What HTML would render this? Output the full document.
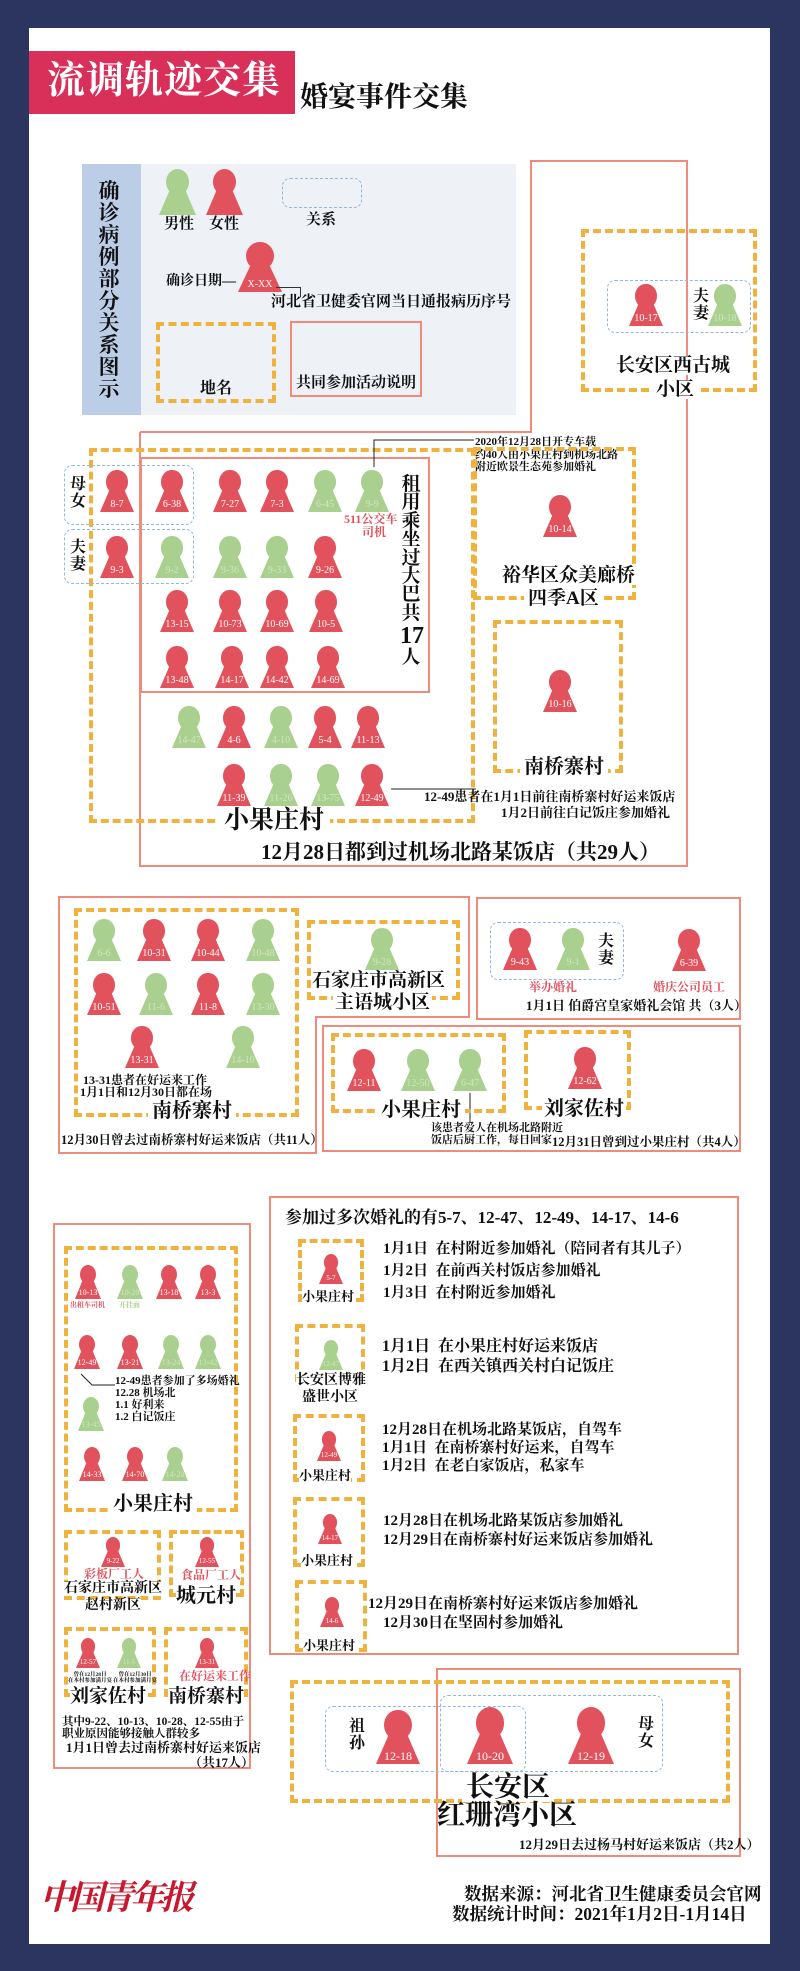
<!DOCTYPE html>
<html><head><meta charset="utf-8">
<style>
*{margin:0;padding:0;box-sizing:border-box}
body{width:800px;height:1971px;background:#2c3560;position:relative;overflow:hidden;font-family:"Liberation Serif","Noto Serif CJK SC",serif;font-weight:bold;color:#111}
#w{position:absolute;left:29px;top:28px;width:741px;height:1916px;background:#fff}
.a{position:absolute}
.t{position:absolute;white-space:nowrap;line-height:1;font-weight:bold}
.o{position:absolute;border:4px dashed #f0b23e}
.rb{position:absolute;border:2px solid #f08a7a}
.bl{position:absolute;border:1.5px dashed #8fb8dc;border-radius:8px}
.p{position:absolute;width:34px;height:42px;margin-left:-17px}
.p i{position:absolute;left:19%;width:62%;top:0;height:56%;border-radius:50%;background:var(--c)}
.p b{position:absolute;left:0;right:0;bottom:0;height:62%;background:var(--c);clip-path:polygon(33% 0,67% 0,100% 100%,0 100%);color:#fff;font-size:10px;line-height:1;display:flex;align-items:flex-end;justify-content:center;padding-bottom:2px;font-family:"Liberation Serif",serif;font-weight:normal}
.r{--c:#e1525d}.g{--c:#a9d08e}
.g b{color:#cfe6c0}
.s{width:26px;height:34px;margin-left:-13px}.s b{font-size:8px}
.xs{width:24px;height:30px;margin-left:-12px}.xs b{font-size:7px}
.L{width:37px;height:46px;margin-left:-18px}
.B{width:44px;height:54px;margin-left:-22px}.B b{font-size:12px}
.wb{background:#fff}
.red{color:#e1525d}
.v{position:absolute;line-height:1.05;font-weight:bold;text-align:center}
</style></head><body>
<div id="w"></div>

<!-- title -->
<div class="a" style="left:29px;top:51px;width:266px;height:63px;background:#d9305a"></div>
<div class="t" style="left:47px;top:62px;font-size:38px;color:#fff;letter-spacing:1px">流调轨迹交集</div>
<div class="t" style="left:300px;top:84px;font-size:28px">婚宴事件交集</div>

<!-- legend -->
<div class="a" style="left:82px;top:164px;width:434px;height:251px;background:#eef2f7"></div>
<div class="a" style="left:82px;top:164px;width:59px;height:251px;background:#bccde8"></div>
<div class="v" style="left:97px;top:180px;width:24px;font-size:21px">确<br>诊<br>病<br>例<br>部<br>分<br>关<br>系<br>图<br>示</div>
<div class="p L g" style="left:177px;top:169px"><i></i><b></b></div>
<div class="p L r" style="left:224px;top:169px"><i></i><b></b></div>
<div class="t" style="left:164px;top:217px;font-size:15px">男性</div>
<div class="t" style="left:209px;top:217px;font-size:15px">女性</div>
<div class="bl" style="left:282px;top:178px;width:80px;height:30px"></div>
<div class="t" style="left:306px;top:213px;font-size:15px">关系</div>
<div class="p L r" style="left:260px;top:242px;width:44px;height:50px;margin-left:-22px"><i></i><b>X-XX</b></div>
<div class="t" style="left:166px;top:275px;font-size:14px">确诊日期—</div>
<div class="a" style="left:276px;top:287px;width:24px;height:1px;background:#333"></div>
<div class="a" style="left:300px;top:287px;width:1px;height:10px;background:#333"></div>
<div class="t" style="left:271px;top:295px;font-size:15px">河北省卫健委官网当日通报病历序号</div>
<div class="o" style="left:156px;top:322px;width:120px;height:81px"></div>
<div class="t wb" style="left:196px;top:381px;font-size:16px;background:#eef2f7;padding:0 4px">地名</div>
<div class="rb" style="left:290px;top:321px;width:132px;height:76px"></div>
<div class="t" style="left:296px;top:376px;font-size:15px">共同参加活动说明</div>

<!-- big red polyline -->
<svg class="a" style="left:0;top:0" width="800" height="900"><polyline points="140,432 531,432 531,161 687,161 687,866 140,866 140,432" fill="none" stroke="#f08a7a" stroke-width="2"/></svg>

<!-- 西古城 -->
<div class="o" style="left:581px;top:229px;width:176px;height:163px"></div>
<div class="bl" style="left:607px;top:280px;width:144px;height:53px"></div>
<div class="p r" style="left:646px;top:284px"><i></i><b>10-17</b></div>
<div class="p g" style="left:725px;top:284px"><i></i><b>10-18</b></div>
<div class="v" style="left:692px;top:289px;width:18px;font-size:16px">夫<br>妻</div>
<div class="t wb" style="left:612px;top:356px;font-size:19px;padding:0 4px">长安区西古城</div>
<div class="t wb" style="left:652px;top:380px;font-size:19px;padding:0 4px">小区</div>

<!-- 小果庄村 big -->
<div class="o" style="left:89px;top:448px;width:386px;height:375px"></div>
<div class="rb" style="left:140px;top:457px;width:290px;height:236px"></div>
<div class="bl" style="left:64px;top:465px;width:130px;height:60px"></div>
<div class="bl" style="left:64px;top:529px;width:130px;height:55px"></div>
<div class="v wb" style="left:69px;top:477px;width:18px;font-size:16px">母<br>女</div>
<div class="v wb" style="left:69px;top:540px;width:18px;font-size:16px">夫<br>妻</div>
<div class="p r" style="left:117px;top:470px"><i></i><b>8-7</b></div>
<div class="p r" style="left:172px;top:470px"><i></i><b>6-38</b></div>
<div class="p r" style="left:230px;top:470px"><i></i><b>7-27</b></div>
<div class="p r" style="left:277px;top:470px"><i></i><b>7-3</b></div>
<div class="p g" style="left:325px;top:470px"><i></i><b>6-45</b></div>
<div class="p g" style="left:372px;top:470px"><i></i><b>9-9</b></div>
<div class="t red" style="left:344px;top:513px;font-size:12px">511公交车</div>
<div class="t red" style="left:362px;top:526px;font-size:12px">司机</div>
<svg class="a" style="left:0;top:0" width="800" height="900"><polyline points="374,467 374,440 474,440" fill="none" stroke="#222" stroke-width="1"/><line x1="391" y1="789" x2="476" y2="789" stroke="#222" stroke-width="1"/></svg>
<div class="t" style="left:475px;top:436px;font-size:11px;line-height:12.5px">2020年12月28日开专车载<br>约40人由小果庄村到机场北路<br>附近欧景生态苑参加婚礼</div>
<div class="p r" style="left:117px;top:536px"><i></i><b>9-3</b></div>
<div class="p g" style="left:172px;top:536px"><i></i><b>9-2</b></div>
<div class="p g" style="left:230px;top:536px"><i></i><b>9-36</b></div>
<div class="p g" style="left:277px;top:536px"><i></i><b>9-33</b></div>
<div class="p r" style="left:325px;top:536px"><i></i><b>9-26</b></div>
<div class="p r" style="left:177px;top:590px"><i></i><b>13-15</b></div>
<div class="p r" style="left:230px;top:590px"><i></i><b>10-73</b></div>
<div class="p r" style="left:277px;top:590px"><i></i><b>10-69</b></div>
<div class="p r" style="left:326px;top:590px"><i></i><b>10-5</b></div>
<div class="p r" style="left:177px;top:646px"><i></i><b>13-48</b></div>
<div class="p r" style="left:232px;top:646px"><i></i><b>14-17</b></div>
<div class="p r" style="left:277px;top:646px"><i></i><b>14-42</b></div>
<div class="p r" style="left:328px;top:646px"><i></i><b>14-69</b></div>
<div class="v" style="left:400px;top:476px;width:22px;font-size:19px;line-height:18.4px">租<br>用<br>乘<br>坐<br>过<br>大<br>巴<br>共<br><span style="font-size:24px;line-height:26px">17</span><br>人</div>
<div class="p g" style="left:189px;top:706px"><i></i><b>14-47</b></div>
<div class="p r" style="left:234px;top:706px"><i></i><b>4-6</b></div>
<div class="p g" style="left:281px;top:706px"><i></i><b>4-10</b></div>
<div class="p r" style="left:325px;top:706px"><i></i><b>5-4</b></div>
<div class="p r" style="left:368px;top:706px"><i></i><b>11-13</b></div>
<div class="p r" style="left:234px;top:764px"><i></i><b>11-39</b></div>
<div class="p g" style="left:281px;top:764px"><i></i><b>11-26</b></div>
<div class="p g" style="left:328px;top:764px"><i></i><b>13-75</b></div>
<div class="p r" style="left:372px;top:764px"><i></i><b>12-49</b></div>
<div class="t" style="left:424px;top:790px;font-size:13px">12-49患者在1月1日前往南桥寨村好运来饭店</div>
<div class="t" style="left:501px;top:806px;font-size:13px">1月2日前往白记饭庄参加婚礼</div>
<div class="t wb" style="left:218px;top:808px;font-size:25px;padding:0 6px">小果庄村</div>
<div class="t" style="left:261px;top:842px;font-size:21px">12月28日都到过机场北路某饭店（共29人）</div>

<!-- 裕华区 -->
<div class="o" style="left:473px;top:447px;width:163px;height:153px"></div>
<div class="p r" style="left:560px;top:495px"><i></i><b>10-14</b></div>
<div class="t wb" style="left:500px;top:566px;font-size:19px;padding:0 2px">裕华区众美廊桥</div>
<div class="t wb" style="left:524px;top:589px;font-size:19px;padding:0 4px">四季A区</div>
<div class="o" style="left:493px;top:620px;width:130px;height:153px"></div>
<div class="p r" style="left:560px;top:670px"><i></i><b>10-16</b></div>
<div class="t wb" style="left:520px;top:757px;font-size:20px;padding:0 4px">南桥寨村</div>

<!-- middle section -->
<svg class="a" style="left:0;top:0" width="800" height="1200"><polygon points="59,897 469,897 469,1017 316,1017 316,1153 59,1153" fill="none" stroke="#f08a7a" stroke-width="2"/><line x1="470" y1="1093" x2="470" y2="1127" stroke="#222" stroke-width="1"/></svg>
<div class="o" style="left:74px;top:908px;width:225px;height:209px"></div>
<div class="p g" style="left:104px;top:919px"><i></i><b>6-6</b></div>
<div class="p r" style="left:154px;top:919px"><i></i><b>10-31</b></div>
<div class="p r" style="left:208px;top:919px"><i></i><b>10-44</b></div>
<div class="p g" style="left:263px;top:919px"><i></i><b>10-48</b></div>
<div class="p r" style="left:104px;top:973px"><i></i><b>10-51</b></div>
<div class="p g" style="left:156px;top:973px"><i></i><b>11-6</b></div>
<div class="p r" style="left:208px;top:973px"><i></i><b>11-8</b></div>
<div class="p g" style="left:263px;top:973px"><i></i><b>13-30</b></div>
<div class="p r" style="left:142px;top:1026px"><i></i><b>13-31</b></div>
<div class="p g" style="left:243px;top:1026px"><i></i><b>14-10</b></div>
<div class="t wb" style="left:80px;top:1074px;font-size:12px;line-height:12px">&nbsp;13-31患者在好运来工作<br>1月1日和12月30日都在场</div>
<div class="t wb" style="left:148px;top:1101px;font-size:20px;padding:0 4px">南桥寨村</div>
<div class="t" style="left:61px;top:1134px;font-size:12.5px">12月30日曾去过南桥寨村好运来饭店（共11人）</div>

<div class="o" style="left:307px;top:920px;width:153px;height:80px"></div>
<div class="p g" style="left:382px;top:928px"><i></i><b>9-28</b></div>
<div class="t wb" style="left:312px;top:971px;font-size:19px">石家庄市高新区</div>
<div class="t wb" style="left:333px;top:993px;font-size:19px;padding:0 2px">主语城小区</div>

<div class="rb" style="left:476px;top:897px;width:265px;height:123px"></div>
<div class="bl" style="left:490px;top:922px;width:134px;height:58px"></div>
<div class="p r" style="left:520px;top:928px"><i></i><b>9-43</b></div>
<div class="p g" style="left:573px;top:928px"><i></i><b>9-1</b></div>
<div class="v" style="left:597px;top:934px;width:18px;font-size:16px">夫<br>妻</div>
<div class="p r" style="left:689px;top:929px"><i></i><b>6-39</b></div>
<div class="t red" style="left:529px;top:981px;font-size:12px">举办婚礼</div>
<div class="t red" style="left:653px;top:981px;font-size:12px">婚庆公司员工</div>
<div class="t" style="left:526px;top:999px;font-size:13px">1月1日 伯爵宫皇家婚礼会馆 共（3人）</div>

<div class="rb" style="left:322px;top:1025px;width:419px;height:127px"></div>
<div class="o" style="left:331px;top:1033px;width:175px;height:80px"></div>
<div class="p r" style="left:364px;top:1049px"><i></i><b>12-11</b></div>
<div class="p g" style="left:418px;top:1049px"><i></i><b>12-50</b></div>
<div class="p g" style="left:470px;top:1049px"><i></i><b>6-47</b></div>
<div class="t wb" style="left:377px;top:1100px;font-size:20px;padding:0 4px">小果庄村</div>
<div class="t" style="left:431px;top:1122px;font-size:11px;line-height:12px;background:#fff">该患者爱人在机场北路附近<br>饭店后厨工作，每日回家</div>
<div class="o" style="left:524px;top:1030px;width:107px;height:80px"></div>
<div class="p r" style="left:585px;top:1047px"><i></i><b>12-62</b></div>
<div class="t wb" style="left:542px;top:1099px;font-size:20px;padding:0 2px">刘家佐村</div>
<div class="t" style="left:552px;top:1136px;font-size:12.5px">12月31日曾到过小果庄村（共4人）</div>

<!-- lower left -->
<div class="rb" style="left:53px;top:1223px;width:198px;height:546px"></div>
<div class="o" style="left:64px;top:1246px;width:174px;height:266px"></div>
<div class="p s r" style="left:88px;top:1265px"><i></i><b>10-13</b></div>
<div class="p s g" style="left:130px;top:1265px"><i></i><b>10-28</b></div>
<div class="p s r" style="left:169px;top:1265px"><i></i><b>13-18</b></div>
<div class="p s r" style="left:208px;top:1265px"><i></i><b>13-3</b></div>
<div class="t red" style="left:70px;top:1302px;font-size:7px">出租车司机</div>
<div class="t" style="left:119px;top:1302px;font-size:7px;color:#a9d08e">开挂面</div>
<div class="p s r" style="left:87px;top:1335px"><i></i><b>12-49</b></div>
<div class="p s r" style="left:130px;top:1335px"><i></i><b>13-21</b></div>
<div class="p s g" style="left:171px;top:1335px"><i></i><b>13-24</b></div>
<div class="p s g" style="left:208px;top:1335px"><i></i><b>13-42</b></div>
<svg class="a" style="left:0;top:1300px" width="260" height="120"><polyline points="81,74 92,85 115,85" fill="none" stroke="#222" stroke-width="1"/></svg>
<div class="t" style="left:115px;top:1375px;font-size:11px;line-height:12px">12-49患者参加了多场婚礼<br>12.28 机场北<br>1.1 好利来<br>1.2 白记饭庄</div>
<div class="p s g" style="left:91px;top:1397px"><i></i><b>13-45</b></div>
<div class="p s r" style="left:92px;top:1447px"><i></i><b>14-33</b></div>
<div class="p s r" style="left:135px;top:1447px"><i></i><b>14-70</b></div>
<div class="p s g" style="left:175px;top:1447px"><i></i><b>14-20</b></div>
<div class="t wb" style="left:109px;top:1494px;font-size:20px;padding:0 4px">小果庄村</div>

<div class="o" style="left:64px;top:1530px;width:97px;height:70px"></div>
<div class="p xs r" style="left:113px;top:1537px"><i></i><b>9-22</b></div>
<div class="t red" style="left:84px;top:1568px;font-size:12px">彩板厂工人</div>
<div class="t wb" style="left:64px;top:1582px;font-size:14px">石家庄市高新区</div>
<div class="t wb" style="left:85px;top:1599px;font-size:14px">赵村新区</div>
<div class="o" style="left:169px;top:1530px;width:75px;height:67px"></div>
<div class="p xs r" style="left:207px;top:1537px"><i></i><b>12-55</b></div>
<div class="t red wb" style="left:181px;top:1569px;font-size:12px">食品厂工人</div>
<div class="t wb" style="left:176px;top:1586px;font-size:20px">城元村</div>

<div class="o" style="left:64px;top:1627px;width:92px;height:70px"></div>
<div class="p xs r" style="left:88px;top:1638px"><i></i><b>12-57</b></div>
<div class="p xs g" style="left:129px;top:1638px"><i></i><b>11-5</b></div>
<div class="t" style="left:68px;top:1672px;font-size:5.5px;line-height:6px;text-align:center">曾在12月28日<br>在本村参加满月宴</div>
<div class="t" style="left:113px;top:1672px;font-size:5.5px;line-height:6px;text-align:center">曾在12月30日<br>在本村参加满月宴</div>
<div class="t wb" style="left:70px;top:1687px;font-size:19px">刘家佐村</div>
<div class="o" style="left:164px;top:1627px;width:84px;height:70px"></div>
<div class="p xs r" style="left:207px;top:1638px"><i></i><b>13-31</b></div>
<div class="t red" style="left:179px;top:1670px;font-size:12px">在好运来工作</div>
<div class="t wb" style="left:168px;top:1687px;font-size:19px">南桥寨村</div>
<div class="t" style="left:62px;top:1716px;font-size:11.5px;line-height:12px">其中9-22、10-13、10-28、12-55由于<br>职业原因能够接触人群较多</div>
<div class="t" style="left:66px;top:1741px;font-size:13px">1月1日曾去过南桥寨村好运来饭店</div>
<div class="t" style="left:189px;top:1756px;font-size:13px">（共17人）</div>

<!-- lower right -->
<div class="rb" style="left:269px;top:1196px;width:470px;height:459px"></div>
<div class="t" style="left:285px;top:1209px;font-size:17px">参加过多次婚礼的有5-7、12-47、12-49、14-17、14-6</div>

<div class="o" style="left:298px;top:1239px;width:66px;height:63px"></div>
<div class="p xs r" style="left:331px;top:1254px"><i></i><b>5-7</b></div>
<div class="t wb" style="left:302px;top:1290px;font-size:13px">小果庄村</div>
<div class="t" style="left:383px;top:1238px;font-size:15px;line-height:22px">1月1日&nbsp; 在村附近参加婚礼（陪同者有其儿子）<br>1月2日&nbsp; 在前西关村饭店参加婚礼<br>1月3日&nbsp; 在村附近参加婚礼</div>

<div class="o" style="left:295px;top:1324px;width:70px;height:58px"></div>
<div class="p xs g" style="left:331px;top:1340px"><i></i><b>12-47</b></div>
<div class="t wb" style="left:296px;top:1374px;font-size:14px">长安区博雅</div>
<div class="t wb" style="left:302px;top:1391px;font-size:14px">盛世小区</div>
<div class="t" style="left:382px;top:1337px;font-size:16px;line-height:20px">1月1日&nbsp; 在小果庄村好运来饭店<br>1月2日&nbsp; 在西关镇西关村白记饭庄</div>

<div class="o" style="left:293px;top:1414px;width:72px;height:68px"></div>
<div class="p xs r" style="left:329px;top:1431px"><i></i><b>12-49</b></div>
<div class="t wb" style="left:299px;top:1469px;font-size:13px">小果庄村</div>
<div class="t" style="left:382px;top:1421px;font-size:15px;line-height:18px">12月28日在机场北路某饭店，自驾车<br>1月1日&nbsp; 在南桥寨村好运来，自驾车<br>1月2日&nbsp; 在老白家饭店，私家车</div>

<div class="o" style="left:293px;top:1497px;width:72px;height:70px"></div>
<div class="p xs r" style="left:330px;top:1514px"><i></i><b>14-17</b></div>
<div class="t wb" style="left:301px;top:1554px;font-size:13px">小果庄村</div>
<div class="t" style="left:383px;top:1512px;font-size:15px;line-height:19px">12月28日在机场北路某饭店参加婚礼<br>12月29日在南桥寨村好运来饭店参加婚礼</div>

<div class="o" style="left:295px;top:1580px;width:72px;height:72px"></div>
<div class="p xs r" style="left:332px;top:1597px"><i></i><b>14-6</b></div>
<div class="t wb" style="left:303px;top:1639px;font-size:13px">小果庄村</div>
<div class="t wb" style="left:368px;top:1597px;font-size:15px">12月29日在南桥寨村好运来饭店参加婚礼</div>
<div class="t" style="left:383px;top:1616px;font-size:15px">12月30日在坚固村参加婚礼</div>

<!-- 红珊湾 -->
<div class="rb" style="left:436px;top:1668px;width:305px;height:189px"></div>
<div class="o" style="left:290px;top:1680px;width:440px;height:123px"></div>
<div class="bl" style="left:325px;top:1706px;width:201px;height:66px"></div>
<div class="bl" style="left:440px;top:1695px;width:223px;height:77px"></div>
<div class="v" style="left:348px;top:1719px;width:18px;font-size:16px">祖<br>孙</div>
<div class="v" style="left:637px;top:1717px;width:18px;font-size:16px">母<br>女</div>
<div class="p B r" style="left:398px;top:1710px"><i></i><b>12-18</b></div>
<div class="p B r" style="left:490px;top:1707px;width:46px;height:57px;margin-left:-23px"><i></i><b>10-20</b></div>
<div class="p B r" style="left:591px;top:1707px;width:46px;height:57px;margin-left:-23px"><i></i><b>12-19</b></div>
<div class="t wb" style="left:462px;top:1774px;font-size:28px;padding:0 4px">长安区</div>
<div class="t" style="left:437px;top:1802px;font-size:28px">红珊湾小区</div>
<div class="t" style="left:519px;top:1838px;font-size:13px">12月29日去过杨马村好运来饭店（共2人）</div>

<!-- footer -->
<div class="t" style="left:40px;top:1878px;font-size:34px;color:#c8182e;font-style:italic;letter-spacing:-4px;font-family:'Noto Serif CJK SC',serif">中国青年报</div>
<div class="t" style="left:464px;top:1886px;font-size:17.5px">数据来源：河北省卫生健康委员会官网</div>
<div class="t" style="left:452px;top:1906px;font-size:17.5px">数据统计时间：2021年1月2日-1月14日</div>
</body></html>
